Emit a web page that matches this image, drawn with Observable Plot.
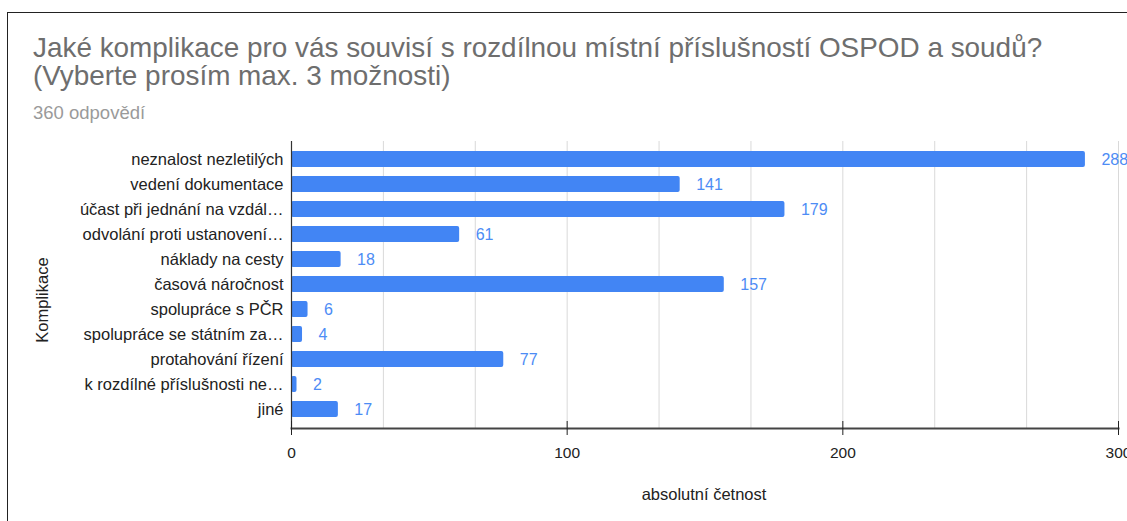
<!DOCTYPE html>
<html>
<head>
<meta charset="utf-8">
<script src="https://cdn.jsdelivr.net/npm/d3@7"></script>
<script src="https://cdn.jsdelivr.net/npm/@observablehq/plot@0.6"></script>
<style>
  html, body { margin: 0; padding: 0; background: #fff; overflow: hidden; width: 1127px; height: 521px; }
  body { position: relative; font-family: "Liberation Sans", Arial, sans-serif; }
  #border { position: absolute; left: 7px; top: 12px; width: 1200px; height: 600px; border-top: 1px solid #222; border-left: 1px solid #222; }
  #title { position: absolute; left: 33px; top: 34px; font-size: 27.9px; line-height: 28px; color: #6e6e6e; white-space: nowrap; }
  #subtitle { position: absolute; left: 33px; top: 102px; font-size: 18.5px; color: #9a9a9a; white-space: nowrap; }
  #chart { position: absolute; left: 0; top: 130px; }
  #chart svg { max-width: none; overflow: visible; }
  #ytitle { position: absolute; left: 42px; top: 300px; transform: translate(-50%, -50%) rotate(-90deg); font-size: 16.5px; color: #222; white-space: nowrap; }
  #xtitle { position: absolute; left: 704px; top: 494px; transform: translate(-50%, -50%); font-size: 16.5px; color: #222; white-space: nowrap; }
</style>
</head>
<body>
<div id="border"></div>
<div id="title">Jaké komplikace pro vás souvisí s rozdílnou místní příslušností OSPOD a soudů?<br>(Vyberte prosím max. 3 možnosti)</div>
<div id="subtitle">360 odpovědí</div>
<div id="chart"></div>
<div id="ytitle">Komplikace</div>
<div id="xtitle">absolutní četnost</div>
<script>
const categories = [
  "neznalost nezletilých",
  "vedení dokumentace",
  "účast při jednání na vzdál…",
  "odvolání proti ustanovení…",
  "náklady na cesty",
  "časová náročnost",
  "spolupráce s PČR",
  "spolupráce se státním za…",
  "protahování řízení",
  "k rozdílné příslušnosti ne…",
  "jiné"
];
const counts = [288, 141, 179, 61, 18, 157, 6, 4, 77, 2, 17];
const xTicks = [0, 100, 200, 300];

const data = categories.map((c, i) => ({category: c, count: counts[i]}));
const gridTicks = d3.range(0, 10).map(i => i * 100 / 3);

const chart = Plot.plot({
  width: 1200,
  height: 391,
  marginTop: 11,
  marginBottom: 93,
  marginLeft: 291,
  marginRight: 82,
  style: {fontFamily: "'Liberation Sans', Arial, sans-serif", background: "transparent", overflow: "visible"},
  x: {domain: [0, 300]},
  y: {domain: categories, paddingInner: 0.35, paddingOuter: 0.375},
  marks: [
    Plot.gridX(gridTicks, {stroke: "#d9d9d9", strokeOpacity: 1, strokeWidth: 1}),
    Plot.barX(data, {y: "category", x: "count", fill: "#4285f4", rx: 2}),
    Plot.text(data, {y: "category", x: "count", text: d => String(d.count), dx: 16, textAnchor: "start", fill: "#4d8cf5", fontSize: 16}),
    Plot.ruleX([0], {stroke: "#333", strokeWidth: 1.2}),
    Plot.frame({anchor: "bottom", stroke: "#444", strokeWidth: 2}),
    Plot.axisX({ticks: xTicks, tickSize: 14, dy: -7, tickPadding: 11, fontSize: 15.5, color: "#222", label: null, tickFormat: d => String(d)}),
    Plot.axisY({tickSize: 0, tickPadding: 8, fontSize: 16.5, color: "#222", label: null})
  ]
});
document.getElementById("chart").appendChild(chart);
</script>
</body>
</html>
